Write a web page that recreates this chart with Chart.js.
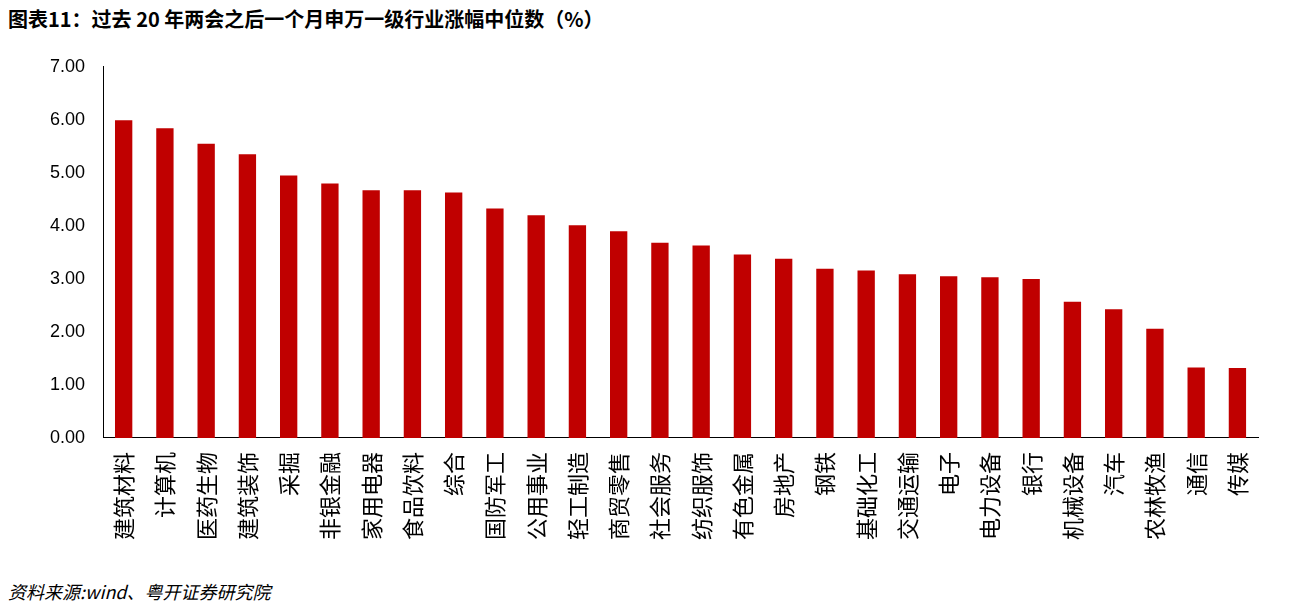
<!DOCTYPE html><html><head><meta charset="utf-8">
<script src="https://cdn.jsdelivr.net/npm/chart.js@4"></script>
<style>body{margin:0;width:1298px;height:605px;background:#fff;font-family:"Noto Sans CJK SC",sans-serif;position:relative;overflow:hidden}
#t{position:absolute;left:8px;top:4px;font-size:20px;font-weight:bold;color:#000}
#s{position:absolute;left:8px;top:578px;font-size:18px;font-style:italic}
#c{position:absolute;left:40px;top:46px}</style></head><body>
<div id="t">图表11：过去 20 年两会之后一个月申万一级行业涨幅中位数（%）</div>
<div id="s">资料来源:wind、粤开证券研究院</div>
<div id="c"><canvas id="cv" width="1230" height="500"></canvas></div>
<script>
const categories=["建筑材料","计算机","医药生物","建筑装饰","采掘","非银金融","家用电器","食品饮料","综合","国防军工","公用事业","轻工制造","商贸零售","社会服务","纺织服饰","有色金属","房地产","钢铁","基础化工","交通运输","电子","电力设备","银行","机械设备","汽车","农林牧渔","通信","传媒"];
const values=[5.99,5.84,5.55,5.35,4.95,4.80,4.67,4.67,4.63,4.33,4.20,4.01,3.90,3.68,3.63,3.46,3.38,3.19,3.16,3.09,3.05,3.03,3.00,2.57,2.43,2.06,1.33,1.32];
new Chart(document.getElementById('cv'),{type:'bar',data:{labels:categories,datasets:[{data:values,backgroundColor:'#C00000',barPercentage:0.42,categoryPercentage:1}]},
options:{responsive:false,animation:false,plugins:{legend:{display:false},tooltip:{enabled:false}},layout:{padding:{right:10,top:5}},
scales:{y:{min:0,max:7,ticks:{stepSize:1,callback:v=>v.toFixed(2),color:'#000',font:{size:18,family:'Liberation Sans'},padding:10},grid:{display:false,drawTicks:true},border:{color:'#000'}},
x:{ticks:{minRotation:90,maxRotation:90,color:'#000',padding:6,font:{size:22,family:'"Noto Sans CJK SC"'}},grid:{display:false},border:{color:'#000'}}}}});
</script></body></html>
